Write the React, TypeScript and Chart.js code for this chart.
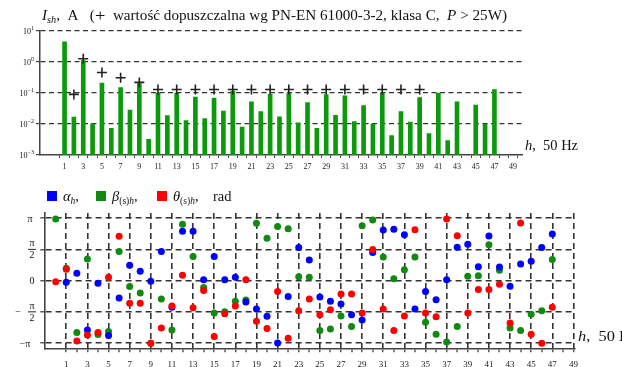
import React, { useEffect, useRef } from 'react';
import { Chart, registerables } from 'chart.js';

Chart.register(...registerables);

// ---------- DATA ----------
// Top panel: harmonic current amplitudes I_sh [A] for h = 1..47 (null = no bar)
const harmonicOrders: number[] = Array.from({ length: 47 }, (_, i) => i + 1);
const amplitudes: (number | null)[] = [
  4.5, 0.0168, 1.12, 0.01, 0.21, 0.0072, 0.15, 0.028, 0.2, 0.0032,
  0.1, 0.0186, 0.1, 0.013, 0.074, 0.015, 0.069, 0.026, 0.116, 0.0079,
  0.052, 0.025, 0.09, 0.017, 0.095, 0.011, 0.049, 0.0072, 0.089, 0.019,
  0.081, 0.012, 0.039, 0.01, 0.1, 0.0042, 0.025, 0.0115, 0.071, 0.0049,
  0.1, 0.0029, 0.052, null, 0.041, 0.01, 0.13,
];
// Permissible values (PN-EN 61000-3-2, class C)
const limitOrders: number[] = [2, 3, 5, 7, 9, 11, 13, 15, 17, 19, 21, 23, 25, 27, 29, 31, 33, 35, 37, 39];
const limitValues: number[] = [
  0.09, 1.28, 0.46, 0.31, 0.22, 0.13, 0.13, 0.13, 0.13, 0.13,
  0.13, 0.13, 0.13, 0.13, 0.13, 0.13, 0.13, 0.13, 0.13, 0.13,
];
const decadeTicks: number[] = [0.001, 0.01, 0.1, 1, 10];
const decadeExponents: string[] = ['\u22123', '\u22122', '\u22121', '0', '1'];

// Bottom panel: phase angles [rad] for h = 0..47
const phaseOrders: number[] = Array.from({ length: 48 }, (_, i) => i);
const alphaH: (number | null)[] = [
  null, -0.08, 0.37, -2.48, -0.13, -2.76, -0.87, 0.77, 0.47, -0.03,
  1.46, -1.34, 2.48, 2.48, 0.05, 1.21, 0.05, 0.17, -1.07, -1.42,
  -1.79, -3.13, -0.8, 1.66, 1.04, -0.82, -1.04, -1.17, -1.71, -1.98,
  1.42, 2.55, 2.58, 2.31, -1.42, -0.54, -0.96, 0.05, 1.68, 1.83,
  0.7, 2.25, 0.69, -0.28, 0.84, 0.97, 1.66, 2.35,
];
const betaSH: (number | null)[] = [
  3.1, 0.62, -2.6, 1.09, -2.71, -2.55, 1.46, -0.3, -0.62, -3.14,
  -0.92, -2.48, 2.83, 1.21, -0.35, -1.63, -1.56, -1.04, -0.97, 2.88,
  2.13, 2.72, 2.61, 0.2, 0.17, -2.5, -2.43, -1.78, -2.31, 2.76,
  3.05, 1.19, 0.1, 0.55, 1.19, -2.09, -2.7, -3.08, -2.3, 0.22,
  0.25, 1.81, 0.52, -2.38, -2.51, -1.69, -1.51, 1.06,
];
const thetaSH: (number | null)[] = [
  -0.05, 0.57, -3.03, -2.73, -2.6, 0.17, 2.23, -1.14, -1.14, -3.14,
  -2.38, -1.27, 0.27, -1.36, -0.5, -2.81, -1.66, -1.27, 0.05, -2.04,
  -2.41, -0.54, -2.9, -1.51, -0.92, -1.71, -1.46, -0.67, -0.67, -1.63,
  1.56, -1.42, -2.5, -1.78, 2.56, -1.63, -1.81, 3.1, 2.26, -1.63,
  -0.44, -0.44, -0.18, -2.13, 2.9, -2.7, -3.14, -1.34,
];
const phaseTicks: number[] = [-Math.PI, -Math.PI / 2, 0, Math.PI / 2, Math.PI];
const xTickOrders: number[] = Array.from({ length: 49 }, (_, i) => i + 1);

// ---------- STYLE ----------
const SERIF = '"Liberation Serif", "DejaVu Serif", serif';
const BAR_GREEN = '#0c9a0c';
const PT_BLUE = '#0000ff';
const PT_GREEN = '#118a11';
const PT_RED = '#ff0000';
const GRID = '#333333';
const AXIS = '#444444';

type Seg = { t: string; italic?: boolean; size?: number; dy?: number };

function richWidth(ctx: CanvasRenderingContext2D, segs: Seg[], base: number) {
  let w = 0;
  for (const s of segs) {
    ctx.font = `${s.italic ? 'italic ' : ''}${s.size ?? base}px ${SERIF}`;
    w += ctx.measureText(s.t).width;
  }
  return w;
}
function drawRich(ctx: CanvasRenderingContext2D, x: number, y: number, segs: Seg[], base: number) {
  let cx = x;
  for (const s of segs) {
    ctx.font = `${s.italic ? 'italic ' : ''}${s.size ?? base}px ${SERIF}`;
    ctx.fillText(s.t, cx, y + (s.dy ?? 0));
    cx += ctx.measureText(s.t).width;
  }
  return cx;
}
// draws rich text stretched horizontally to span a given width
function drawRichFit(ctx: CanvasRenderingContext2D, x: number, y: number, segs: Seg[], base: number, width: number) {
  const w = richWidth(ctx, segs, base);
  ctx.save();
  ctx.translate(x, y);
  ctx.scale(width / w, 1);
  drawRich(ctx, 0, 0, segs, base);
  ctx.restore();
}

const pairs = (xs: number[], ys: (number | null)[]) =>
  xs.map((x, i) => ({ x, y: ys[i] })).filter((p) => p.y !== null && p.y !== undefined) as { x: number; y: number }[];

export default function App() {
  const topRef = useRef<HTMLCanvasElement>(null);
  const botRef = useRef<HTMLCanvasElement>(null);

  useEffect(() => {
    const topPlugin = {
      id: 'topText',
      afterDraw(chart: any) {
        const ctx: CanvasRenderingContext2D = chart.ctx;
        ctx.save();
        ctx.fillStyle = '#111';
        ctx.textBaseline = 'alphabetic';
        ctx.textAlign = 'left';
        // title
        drawRichFit(ctx, 42, 20, [
          { t: 'I', italic: true },
          { t: 'sh', italic: true, size: 9.5, dy: 3 },
          { t: ',  A   (' },
          { t: '+', size: 17, dy: 1 },
          { t: '  warto\u015b\u0107 dopuszczalna wg PN-EN 61000-3-2, klasa C,  ' },
          { t: 'P', italic: true },
          { t: ' > 25W)' },
        ], 14, 465);
        // x axis name
        drawRichFit(ctx, 525, 150, [{ t: 'h', italic: true }, { t: ',  50 Hz' }], 14, 53);
        // y tick labels
        const ys = chart.scales.y;
        decadeTicks.forEach((v, i) => {
          const py = ys.getPixelForValue(v);
          const segs: Seg[] = [{ t: '10', size: 8, dy: 3 }, { t: decadeExponents[i], size: 6, dy: -1 }];
          const w = richWidth(ctx, segs, 8);
          drawRich(ctx, 34 - w, py, segs, 8);
        });
        ctx.restore();
      },
    };

    const top = new Chart(topRef.current as HTMLCanvasElement, {
      type: 'bar',
      data: {
        datasets: [
          {
            type: 'scatter',
            data: pairs(limitOrders, limitValues),
            pointStyle: 'cross',
            radius: 5,
            borderWidth: 1.6,
            borderColor: '#222',
            backgroundColor: '#222',
            showLine: false,
            order: 0,
          } as any,
          {
            type: 'bar',
            data: pairs(harmonicOrders, amplitudes),
            backgroundColor: BAR_GREEN,
            barThickness: 4,
            order: 1,
          } as any,
        ],
      },
      options: {
        responsive: false,
        animation: false,
        devicePixelRatio: 1,
        layout: { padding: { top: 31, right: 99.3, left: 0, bottom: 0 } },
        plugins: { legend: { display: false }, tooltip: { enabled: false }, title: { display: false } },
        scales: {
          x: {
            type: 'linear',
            min: -1.1,
            max: 49.5,
            afterBuildTicks: (s: any) => { s.ticks = xTickOrders.map((v) => ({ value: v })); },
            afterFit: (s: any) => { s.height = 23; },
            ticks: {
              autoSkip: false,
              maxRotation: 0,
              padding: 4,
              color: '#222',
              font: { family: SERIF, size: 8 },
              callback: (v: any) => (Number(v) % 2 === 1 ? String(v) : ''),
            },
            grid: { drawOnChartArea: false, drawTicks: true, tickLength: 3, tickColor: AXIS, tickWidth: 1 },
            border: { display: true, color: AXIS, width: 1.5 },
          },
          y: {
            type: 'logarithmic',
            min: 0.001,
            max: 10,
            afterBuildTicks: (s: any) => { s.ticks = decadeTicks.map((v) => ({ value: v })); },
            afterFit: (s: any) => { s.width = 40; },
            ticks: { display: false },
            grid: {
              color: (c: any) => (c.tick && c.tick.value <= 0.001 ? 'rgba(0,0,0,0)' : GRID),
              lineWidth: 1.2,
              tickLength: 4,
              tickColor: AXIS,
              tickWidth: 1.2,
            },
            border: { display: true, color: AXIS, width: 1.5, dash: [5, 3.5] },
          },
        },
      } as any,
      plugins: [topPlugin],
    });

    const botPlugin = {
      id: 'botText',
      afterDraw(chart: any) {
        const ctx: CanvasRenderingContext2D = chart.ctx;
        ctx.save();
        ctx.fillStyle = '#111';
        ctx.textBaseline = 'alphabetic';
        ctx.textAlign = 'left';
        // legend
        const legend: { c: string; x: number; segs: Seg[] }[] = [
          { c: PT_BLUE, x: 47, segs: [{ t: '\u03b1', italic: true }, { t: 'h', italic: true, size: 9.5, dy: 3 }, { t: ',' }] },
          { c: PT_GREEN, x: 96, segs: [{ t: '\u03b2', italic: true }, { t: '(s)', size: 9.5, dy: 3 }, { t: 'h', italic: true, size: 9.5, dy: 3 }, { t: ',' }] },
          { c: PT_RED, x: 157, segs: [{ t: '\u03b8', italic: true }, { t: '(s)', size: 9.5, dy: 3 }, { t: 'h', italic: true, size: 9.5, dy: 3 }, { t: ',    rad' }] },
        ];
        legend.forEach((l) => {
          ctx.fillStyle = l.c;
          ctx.fillRect(l.x, 13, 10, 10);
          ctx.fillStyle = '#111';
          drawRich(ctx, l.x + 16, 22.5, l.segs, 14.5);
        });
        // x axis name (clipped at window edge)
        drawRichFit(ctx, 578, 163, [{ t: 'h', italic: true }, { t: ',  50 Hz' }], 14.5, 60);
        // y tick labels
        const ys = chart.scales.y;
        ctx.textAlign = 'center';
        ctx.font = `10px ${SERIF}`;
        const pPi = ys.getPixelForValue(Math.PI);
        const pH = ys.getPixelForValue(Math.PI / 2);
        const p0 = ys.getPixelForValue(0);
        const pmH = ys.getPixelForValue(-Math.PI / 2);
        const pmPi = ys.getPixelForValue(-Math.PI);
        ctx.fillText('\u03c0', 30, pPi + 3.5);
        const frac = (cx: number, cy: number) => {
          ctx.fillText('\u03c0', cx, cy - 3);
          ctx.fillRect(cx - 4, cy - 0.5, 8, 0.9);
          ctx.fillText('2', cx, cy + 9);
        };
        frac(32, pH);
        ctx.fillText('0', 32, p0 + 3.5);
        ctx.fillText('\u2212', 18, pmH + 3.5);
        frac(32, pmH);
        ctx.fillText('\u2212\u03c0', 25, pmPi + 3.5);
        ctx.restore();
      },
    };

    const bot = new Chart(botRef.current as HTMLCanvasElement, {
      type: 'scatter',
      data: {
        datasets: [
          { data: pairs(phaseOrders, thetaSH), backgroundColor: PT_RED, borderColor: PT_RED, order: 0 },
          { data: pairs(phaseOrders, alphaH), backgroundColor: PT_BLUE, borderColor: PT_BLUE, order: 1 },
          { data: pairs(phaseOrders, betaSH), backgroundColor: PT_GREEN, borderColor: PT_GREEN, order: 2 },
        ],
      },
      options: {
        responsive: false,
        animation: false,
        devicePixelRatio: 1,
        elements: { point: { pointStyle: 'circle', radius: 3.5, borderWidth: 0 } },
        layout: { padding: { top: 35, right: 65.5, left: 0, bottom: 0 } },
        plugins: { legend: { display: false }, tooltip: { enabled: false }, title: { display: false } },
        scales: {
          x: {
            type: 'linear',
            min: -1.08,
            max: 49.1,
            afterBuildTicks: (s: any) => { s.ticks = xTickOrders.map((v) => ({ value: v })); },
            afterFit: (s: any) => { s.height = 29.7; },
            ticks: {
              autoSkip: false,
              maxRotation: 0,
              padding: 6.5,
              color: '#222',
              font: { family: SERIF, size: 9 },
              callback: (v: any) => (Number(v) % 2 === 1 ? String(v) : ''),
            },
            grid: {
              color: GRID,
              lineWidth: (c: any) => (c.tick && c.tick.value % 2 === 1 ? 1.6 : 0),
              drawTicks: true,
              tickLength: 4,
              tickColor: '#333',
              tickWidth: 1.2,
            },
            border: { display: true, color: AXIS, width: 1.6, dash: [6, 4] },
          },
          y: {
            type: 'linear',
            min: -3.4,
            max: 3.4,
            afterBuildTicks: (s: any) => { s.ticks = phaseTicks.map((v) => ({ value: v })); },
            afterFit: (s: any) => { s.width = 44.3; },
            ticks: { display: false },
            grid: { color: GRID, lineWidth: 1.6, tickLength: 4, tickColor: '#333', tickWidth: 1.2 },
            border: { display: true, color: AXIS, width: 1.6, dash: [6, 4] },
          },
        },
      } as any,
      plugins: [botPlugin],
    });

    return () => {
      top.destroy();
      bot.destroy();
    };
  }, []);

  return (
    <div style={{ position: 'fixed', left: 0, top: 0, width: 622, height: 367, overflow: 'hidden', background: '#fff' }}>
      <div style={{ position: 'absolute', left: 0, top: 0, width: 622, height: 178 }}>
        <canvas ref={topRef} width={622} height={178} style={{ display: 'block', width: 622, height: 178 }} />
      </div>
      <div style={{ position: 'absolute', left: 0, top: 178, width: 640, height: 200 }}>
        <canvas ref={botRef} width={640} height={200} style={{ display: 'block', width: 640, height: 200 }} />
      </div>
    </div>
  );
}
